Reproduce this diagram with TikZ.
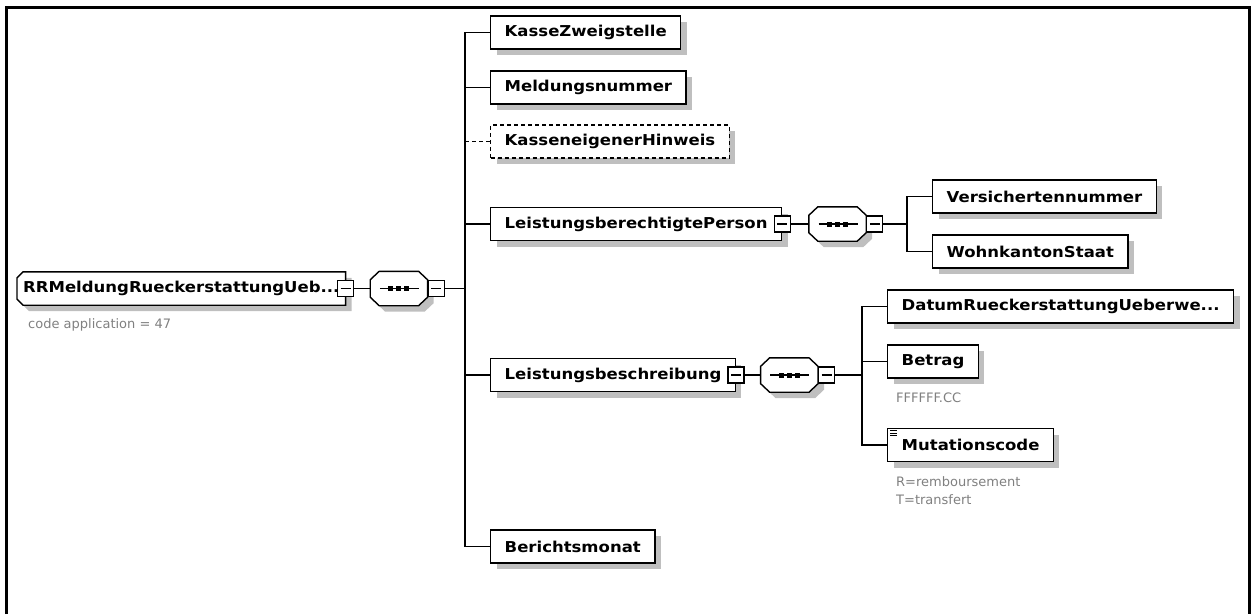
\documentclass[tikz,border=0pt]{standalone}
\usepackage{fontspec}
\usepackage{tikz}
\usetikzlibrary{positioning, shadows, backgrounds}
\newfontfamily\xsdfont[FakeStretch=1.1]{DejaVu Sans}
\newfontfamily\notefont{DejaVu Sans}

% outline with cut corners: node, shift x, shift y, left cut, right cut, vertical cut
\newcommand\chpath[6]{([shift={(#2+#4,#3)}]#1.north west) -- ([shift={(#2-#5,#3)}]#1.north east)
  -- ([shift={(#2,#3-#6)}]#1.north east) -- ([shift={(#2,#3+#6)}]#1.south east)
  -- ([shift={(#2-#5,#3)}]#1.south east) -- ([shift={(#2+#4,#3)}]#1.south west)
  -- ([shift={(#2,#3+#6)}]#1.south west) -- ([shift={(#2,#3-#6)}]#1.north west) -- cycle}

\begin{document}
\begin{tikzpicture}[x=1pt, y=-1pt,
  shade/.style={drop shadow={shadow xshift=6pt, shadow yshift=-6pt, fill=black!25, opacity=1}},
  xsd/.style={rectangle, anchor=west, minimum height=33pt, inner xsep=14pt, inner ysep=0pt,
              font=\xsdfont\bfseries\fontsize{15}{18}\selectfont},
  elem/.style={xsd, draw, fill=white, line width=1.4pt, shade},
  opt/.style={elem, dash pattern=on 4pt off 3pt},
  rootbox/.style={xsd, inner xsep=6pt},
  seq/.style={rectangle, inner sep=0pt, minimum width=57pt, minimum height=34pt},
  minus/.style={draw, fill=white, rectangle, line width=1.2pt, minimum size=16pt, inner sep=0pt,
                path picture={
                  \draw[line width=1.2pt] ([xshift=-5pt]path picture bounding box.center)
                    -- ([xshift=5pt]path picture bounding box.center);
                }},
  link/.style={line width=1.5pt},
  note/.style={inner sep=0pt, anchor=west, text=black!50, font=\notefont\fontsize{13}{16}\selectfont},
]
  \useasboundingbox (0,0) rectangle (1255,614);
  \draw[line width=3pt] (6.5,614) -- (6.5,7.5) -- (1249.5,7.5) -- (1249.5,614);

  \node[rootbox] (root) at (17,288.5) {RRMeldungRueckerstattungUeb...\hspace{8pt}};
  \node[minus] (rootM) at (root.east) {};
  \node[seq, right=16pt of rootM] (seqA) {};
  \node[minus, anchor=west] (seqAM) at (seqA.east) {};
  \coordinate (busA) at (465,288.5);
  \node[note] (rootNote) at (28,325) {code application = 47};

  \node[elem] (kasse)   at (490,32.5)  {KasseZweigstelle};
  \node[elem] (meld)    at (490,87.5)  {Meldungsnummer};
  \node[opt]  (hinweis) at (490,141.5) {KasseneigenerHinweis};
  \node[elem] (lperson) at (490,224)   {LeistungsberechtigtePerson\hspace{16pt}};
  \node[elem] (lbeschr) at (490,375)   {Leistungsbeschreibung\hspace{18pt}};
  \node[elem] (bmonat)  at (490,546.5) {Berichtsmonat};

  \node[minus] (lpersonM) at (lperson.east) {};
  \node[seq, right=18pt of lpersonM] (seqB) {};
  \node[minus, anchor=west] (seqBM) at (seqB.east) {};
  \coordinate (busB) at (907,224);
  \node[elem] (vers) at (932,196.5) {Versichertennummer};
  \node[elem] (wohn) at (932,251.5) {WohnkantonStaat};

  \node[minus] (lbeschrM) at (lbeschr.east) {};
  \node[seq, right=16pt of lbeschrM] (seqC) {};
  \node[minus, anchor=west] (seqCM) at (seqC.east) {};
  \coordinate (busC) at (862,375);
  \node[elem] (datum)  at (887,306.5) {DatumRueckerstattungUeberwe...};
  \node[elem] (betrag) at (887,361.5) {Betrag};
  \node[elem] (mut)    at (887,445)   {Mutationscode};
  \foreach \d in {3,5.5,8}
    \draw[line width=0.8pt] ([xshift=3pt, yshift=-\d pt]mut.north west) -- ++(7,0);
  \node[note] (betragNote) at (896,398) {FFFFFF.CC};
  \node[note] (mutNoteR)   at (896,482) {R=remboursement};
  \node[note] (mutNoteT)   at (896,500) {T=transfert};

  \begin{scope}[on background layer]
    \fill[black!25] \chpath{root}{6pt}{-6pt}{6pt}{0pt}{6pt};
    \filldraw[fill=white, line width=1.4pt] \chpath{root}{0pt}{0pt}{6pt}{0pt}{6pt};
    \foreach \s in {seqA,seqB,seqC} {
      \fill[black!25] \chpath{\s}{6pt}{-6pt}{9pt}{9pt}{8.5pt};
      \filldraw[fill=white, line width=1.4pt] \chpath{\s}{0pt}{0pt}{9pt}{9pt}{8.5pt};
      \draw[line width=1.5pt] ([xshift=-19pt]\s.center) -- ([xshift=20pt]\s.center);
      \foreach \dx in {-8,0,8}
        \fill ([xshift=\dx pt]\s.center) +(-2.5pt,-2.5pt) rectangle +(2.5pt,2.5pt);
    }
  \end{scope}

  \draw[link] (rootM) -- (seqA);
  \draw[link] (seqAM) -- (busA);
  \draw[link] (busA) |- (kasse);
  \draw[link] (busA) |- (meld);
  \draw[link, dash pattern=on 4pt off 3pt] (hinweis -| busA) -- (hinweis);
  \draw[link] (busA) |- (lperson);
  \draw[link] (busA) |- (lbeschr);
  \draw[link] (busA) |- (bmonat);

  \draw[link] (lpersonM) -- (seqB);
  \draw[link] (seqBM) -- (busB);
  \draw[link] (busB) |- (vers);
  \draw[link] (busB) |- (wohn);

  \draw[link] (lbeschrM) -- (seqC);
  \draw[link] (seqCM) -- (busC);
  \draw[link] (busC) |- (datum);
  \draw[link] (busC) |- (betrag);
  \draw[link] (busC) |- (mut);
\end{tikzpicture}
\end{document}
